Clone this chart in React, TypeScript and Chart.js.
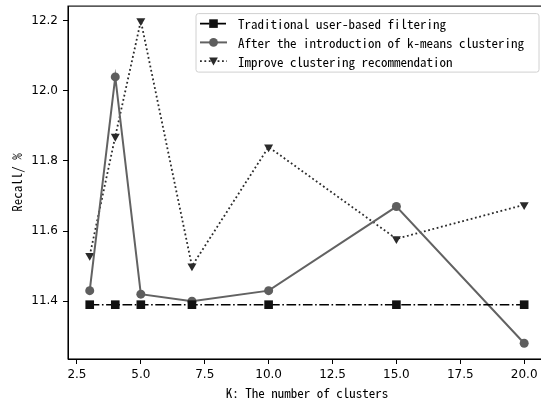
import React, { useEffect, useRef } from "react";
import { Chart, registerables } from "chart.js";

Chart.register(...registerables);

const kValues = [3, 4, 5, 7, 10, 15, 20];
const traditional = [11.39, 11.39, 11.39, 11.39, 11.39, 11.39, 11.39];
const afterKMeans = [11.43, 12.04, 11.42, 11.40, 11.43, 11.67, 11.28];
const improved = [11.53, 11.87, 12.2, 11.5, 11.84, 11.578, 11.675];
const xTicks = [2.5, 5.0, 7.5, 10.0, 12.5, 15.0, 17.5, 20.0];
const yTicks = [11.4, 11.6, 11.8, 12.0, 12.2];
const seriesNames = [
  "Traditional user-based filtering",
  "After the introduction of k-means clustering",
  "Improve clustering recommendation",
];

const MONO = "'Noto Sans Mono CJK SC', 'DejaVu Sans Mono', monospace";
const SANS = "'DejaVu Sans', sans-serif";

function drawMarker(ctx: CanvasRenderingContext2D, kind: string, x: number, y: number, color: string) {
  ctx.save();
  ctx.fillStyle = color;
  ctx.setLineDash([]);
  ctx.beginPath();
  if (kind === "rect") {
    ctx.rect(x - 4.3, y - 4.3, 8.6, 8.6);
  } else if (kind === "circle") {
    ctx.arc(x, y, 4.4, 0, Math.PI * 2);
  } else {
    ctx.moveTo(x - 4.4, y - 3.6);
    ctx.lineTo(x + 4.4, y - 3.6);
    ctx.lineTo(x, y + 4.4);
    ctx.closePath();
  }
  ctx.fill();
  ctx.restore();
}

const framePlugin = {
  id: "frameAndLegend",
  afterDatasetsDraw(chart: any) {
    const { ctx, chartArea } = chart;
    ctx.save();
    ctx.strokeStyle = "#000";
    ctx.lineWidth = 1.1;
    ctx.setLineDash([]);
    ctx.strokeRect(chartArea.left, chartArea.top, chartArea.right - chartArea.left, chartArea.bottom - chartArea.top);

    // legend
    const left = 196;
    const right = 539;
    const top = chartArea.top + 7.5;
    const bottom = top + 58.5;
    const r = 2.5;
    ctx.beginPath();
    ctx.moveTo(left + r, top);
    ctx.lineTo(right - r, top);
    ctx.quadraticCurveTo(right, top, right, top + r);
    ctx.lineTo(right, bottom - r);
    ctx.quadraticCurveTo(right, bottom, right - r, bottom);
    ctx.lineTo(left + r, bottom);
    ctx.quadraticCurveTo(left, bottom, left, bottom - r);
    ctx.lineTo(left, top + r);
    ctx.quadraticCurveTo(left, top, left + r, top);
    ctx.closePath();
    ctx.fillStyle = "rgba(255,255,255,0.85)";
    ctx.fill();
    ctx.strokeStyle = "#d0d0d0";
    ctx.lineWidth = 1;
    ctx.stroke();

    chart.data.datasets.forEach((ds: any, i: number) => {
      const cy = top + 10 + i * 18.8;
      const x0 = left + 4;
      const x1 = left + 31;
      ctx.save();
      ctx.strokeStyle = ds.borderColor;
      ctx.lineWidth = ds.borderWidth;
      ctx.setLineDash(ds.borderDash || []);
      ctx.beginPath();
      ctx.moveTo(x0, cy);
      ctx.lineTo(x1, cy);
      ctx.stroke();
      ctx.restore();
      drawMarker(ctx, ds.pointStyle === "triangle" ? "tri" : ds.pointStyle, (x0 + x1) / 2, cy, ds.pointBackgroundColor);
      ctx.fillStyle = "#000";
      ctx.font = `13px ${MONO}`;
      ctx.textBaseline = "middle";
      ctx.textAlign = "left";
      ctx.fillText(ds.label, left + 42, cy + 0.5);
    });
    ctx.restore();
  },
};

const zeroPad = (s: any) => {
  s.paddingLeft = 0;
  s.paddingRight = 0;
  s.paddingTop = 0;
  s.paddingBottom = 0;
};

export default function App() {
  const ref = useRef<HTMLCanvasElement | null>(null);
  useEffect(() => {
    if (!ref.current) return;
    const toPts = (ys: number[]) => kValues.map((k, i) => ({ x: k, y: ys[i] }));
    const chart = new Chart(ref.current, {
      type: "line",
      data: {
        datasets: [
          {
            label: seriesNames[0],
            data: toPts(traditional),
            borderColor: "#000",
            borderWidth: 1.6,
            borderDash: [9.6, 2.6, 1.6, 2.6],
            pointStyle: "rect",
            pointRadius: 6.1,
            pointBackgroundColor: "#111",
            pointBorderColor: "#111",
            pointBorderWidth: 0,
            tension: 0,
          },
          {
            label: seriesNames[1],
            data: toPts(afterKMeans),
            borderColor: "#626262",
            borderWidth: 2,
            pointStyle: "circle",
            pointRadius: 4.5,
            pointBackgroundColor: "#5e5e5e",
            pointBorderColor: "#5e5e5e",
            pointBorderWidth: 0,
            tension: 0,
          },
          {
            label: seriesNames[2],
            data: toPts(improved),
            borderColor: "#2a2a2a",
            borderWidth: 1.8,
            borderDash: [1.8, 2.6],
            pointStyle: "triangle",
            rotation: 180,
            pointRadius: 5.2,
            pointBackgroundColor: "#2a2a2a",
            pointBorderColor: "#2a2a2a",
            pointBorderWidth: 0,
            tension: 0,
          },
        ] as any,
      },
      options: {
        animation: false,
        responsive: false,
        devicePixelRatio: 1,
        layout: { padding: { top: 3, left: 0, right: 0, bottom: 0 } },
        plugins: { legend: { display: false }, tooltip: { enabled: false } },
        scales: {
          x: {
            type: "linear",
            min: 2.15,
            max: 20.85,
            afterBuildTicks: (s: any) => {
              s.ticks = xTicks.map((v) => ({ value: v }));
            },
            afterFit: (s: any) => {
              s.height = 42;
              zeroPad(s);
            },
            ticks: {
              callback: (v: any) => Number(v).toFixed(1),
              font: { family: SANS, size: 12 },
              color: "#000",
              padding: 4,
              maxRotation: 0,
              autoSkip: false,
            },
            grid: { display: true, drawOnChartArea: false, drawTicks: true, tickLength: 5, color: "#000" },
            border: { display: true, color: "#000" },
            title: {
              display: true,
              text: "K: The number of clusters",
              font: { family: MONO, size: 13 },
              color: "#000",
              padding: { top: 0, bottom: 0 },
            },
          },
          y: {
            type: "linear",
            min: 11.235,
            max: 12.242,
            afterBuildTicks: (s: any) => {
              s.ticks = yTicks.map((v) => ({ value: v }));
            },
            afterFit: (s: any) => {
              s.width = 68;
              zeroPad(s);
            },
            ticks: {
              callback: (v: any) => Number(v).toFixed(1),
              font: { family: SANS, size: 12 },
              color: "#000",
              padding: 5,
              autoSkip: false,
            },
            grid: { display: true, drawOnChartArea: false, drawTicks: true, tickLength: 5, color: "#000" },
            border: { display: true, color: "#000" },
            title: {
              display: true,
              text: "Recall/ %",
              font: { family: MONO, size: 13 },
              color: "#000",
              padding: { top: 9, bottom: 0 },
            },
          },
        },
      },
      plugins: [framePlugin],
    });
    return () => chart.destroy();
  }, []);
  return (
    <div style={{ position: "absolute", left: 0, top: 0, width: 541, height: 401, overflow: "hidden", background: "#fff" }}>
      <canvas ref={ref} width={552} height={401} style={{ width: 552, height: 401, display: "block" }} />
    </div>
  );
}
